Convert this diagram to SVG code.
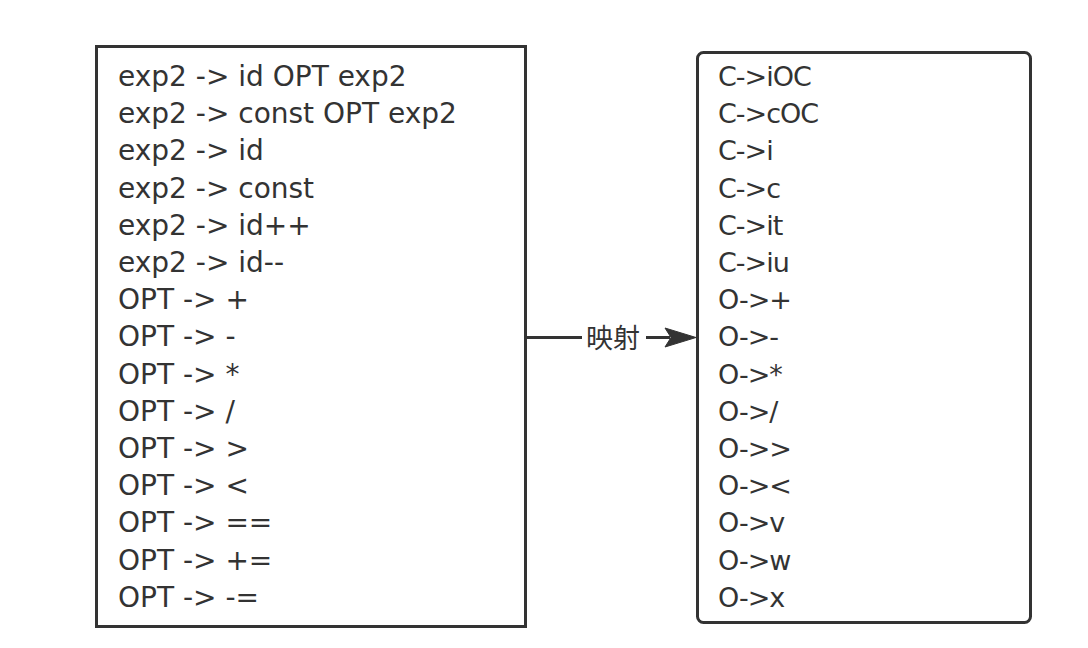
<svg xmlns="http://www.w3.org/2000/svg" width="1088" height="648" viewBox="0 0 1088 648">
<style>
.box{fill:#fff;stroke:#333;stroke-width:3}
.t{font-family:"DejaVu Sans","Liberation Sans",sans-serif;font-size:28px;fill:#333}
.r{font-size:27px;letter-spacing:-1px}
.lbl{font-family:"Noto Sans CJK SC","Noto Sans",sans-serif;font-size:27px;fill:#333}
</style>
<rect width="1088" height="648" fill="#fff"/>
<g id="left">
<rect class="box" x="96.5" y="46.5" width="429" height="580"/>
<text class="t" x="118">
<tspan x="118" y="86">exp2 -&gt; id OPT exp2</tspan>
<tspan x="118" y="123.2">exp2 -&gt; const OPT exp2</tspan>
<tspan x="118" y="160.4">exp2 -&gt; id</tspan>
<tspan x="118" y="197.6">exp2 -&gt; const</tspan>
<tspan x="118" y="234.8">exp2 -&gt; id++</tspan>
<tspan x="118" y="272">exp2 -&gt; id--</tspan>
<tspan x="118" y="309.2">OPT -&gt; +</tspan>
<tspan x="118" y="346.4">OPT -&gt; -</tspan>
<tspan x="118" y="383.6">OPT -&gt; *</tspan>
<tspan x="118" y="420.8">OPT -&gt; /</tspan>
<tspan x="118" y="458">OPT -&gt; &gt;</tspan>
<tspan x="118" y="495.2">OPT -&gt; &lt;</tspan>
<tspan x="118" y="532.4">OPT -&gt; ==</tspan>
<tspan x="118" y="569.6">OPT -&gt; +=</tspan>
<tspan x="118" y="606.8">OPT -&gt; -=</tspan>
</text>
</g>
<g id="right">
<rect class="box" x="697.5" y="52.5" width="333" height="570" rx="6" ry="6"/>
<text class="t r" x="718">
<tspan x="718" y="86">C-&gt;iOC</tspan>
<tspan x="718" y="123.2">C-&gt;cOC</tspan>
<tspan x="718" y="160.4">C-&gt;i</tspan>
<tspan x="718" y="197.6">C-&gt;c</tspan>
<tspan x="718" y="234.8">C-&gt;it</tspan>
<tspan x="718" y="272">C-&gt;iu</tspan>
<tspan x="718" y="309.2">O-&gt;+</tspan>
<tspan x="718" y="346.4">O-&gt;-</tspan>
<tspan x="718" y="383.6">O-&gt;*</tspan>
<tspan x="718" y="420.8">O-&gt;/</tspan>
<tspan x="718" y="458">O-&gt;&gt;</tspan>
<tspan x="718" y="495.2">O-&gt;&lt;</tspan>
<tspan x="718" y="532.4">O-&gt;v</tspan>
<tspan x="718" y="569.6">O-&gt;w</tspan>
<tspan x="718" y="606.8">O-&gt;x</tspan>
</text>
</g>
<g id="connectors">
<line x1="526" y1="337.5" x2="670" y2="337.5" stroke="#333" stroke-width="3"/>
<polygon points="665,328 696,337.5 665,347 671,337.5" fill="#333" stroke="#333" stroke-width="1"/>
<rect x="582" y="321" width="64" height="34" fill="#fff"/>
<text class="lbl" x="613" y="348" text-anchor="middle">映射</text>
</g>
</svg>
